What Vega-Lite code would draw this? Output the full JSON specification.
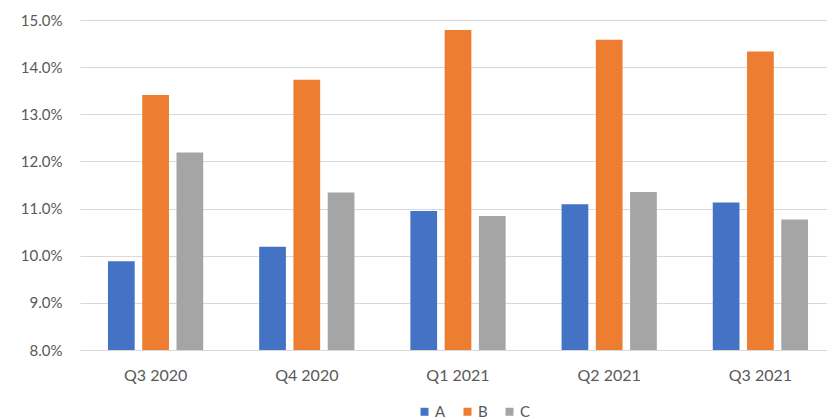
{
  "$schema": "https://vega.github.io/schema/vega-lite/v6.json",
  "width": 747,
  "height": 330,
  "autosize": "none",
  "padding": {"left": 80, "top": 20, "right": 0, "bottom": 69},
  "background": "white",
  "config": {
    "view": {"stroke": null},
    "font": "Lato",
    "axis": {"labelFont": "Lato", "labelColor": "#595959"}
  },
  "data": {
    "values": [
      {"quarter": "Q3 2020", "series": "A", "value": 9.88},
      {"quarter": "Q3 2020", "series": "B", "value": 13.41},
      {"quarter": "Q3 2020", "series": "C", "value": 12.19},
      {"quarter": "Q4 2020", "series": "A", "value": 10.19},
      {"quarter": "Q4 2020", "series": "B", "value": 13.73},
      {"quarter": "Q4 2020", "series": "C", "value": 11.34},
      {"quarter": "Q1 2021", "series": "A", "value": 10.95},
      {"quarter": "Q1 2021", "series": "B", "value": 14.79},
      {"quarter": "Q1 2021", "series": "C", "value": 10.84},
      {"quarter": "Q2 2021", "series": "A", "value": 11.09},
      {"quarter": "Q2 2021", "series": "B", "value": 14.58},
      {"quarter": "Q2 2021", "series": "C", "value": 11.35},
      {"quarter": "Q3 2021", "series": "A", "value": 11.13},
      {"quarter": "Q3 2021", "series": "B", "value": 14.33},
      {"quarter": "Q3 2021", "series": "C", "value": 10.77}
    ]
  },
  "mark": {"type": "bar", "clip": true},
  "encoding": {
    "x": {
      "field": "quarter",
      "type": "nominal",
      "sort": null,
      "scale": {"paddingInner": 0.37, "paddingOuter": 0.185, "range": [0, 756]},
      "axis": {
        "title": null,
        "labelAngle": 0,
        "ticks": false,
        "domain": false,
        "labelPadding": 17,
        "labelFontSize": 16
      }
    },
    "xOffset": {
      "field": "series",
      "type": "nominal",
      "scale": {"paddingInner": 0.22, "paddingOuter": 0}
    },
    "y": {
      "field": "value",
      "type": "quantitative",
      "scale": {"domain": [8, 15], "zero": false, "nice": false},
      "axis": {
        "title": null,
        "values": [8, 9, 10, 11, 12, 13, 14, 15],
        "labelExpr": "format(datum.value, '.1f') + '%'",
        "ticks": false,
        "domain": false,
        "labelPadding": 18,
        "labelFontSize": 15,
        "gridColor": "#d9d9d9",
        "gridWidth": 1
      }
    },
    "color": {
      "field": "series",
      "type": "nominal",
      "scale": {"domain": ["A", "B", "C"], "range": ["#4472C4", "#ED7D31", "#A5A5A5"]},
      "legend": {
        "title": null,
        "orient": "none",
        "direction": "horizontal",
        "legendX": 337,
        "legendY": 384,
        "symbolType": "square",
        "symbolSize": 64,
        "symbolStrokeWidth": 0,
        "labelOffset": 3,
        "columnPadding": 14,
        "labelFontSize": 15,
        "labelColor": "#595959",
        "labelFont": "Lato"
      }
    }
  }
}
